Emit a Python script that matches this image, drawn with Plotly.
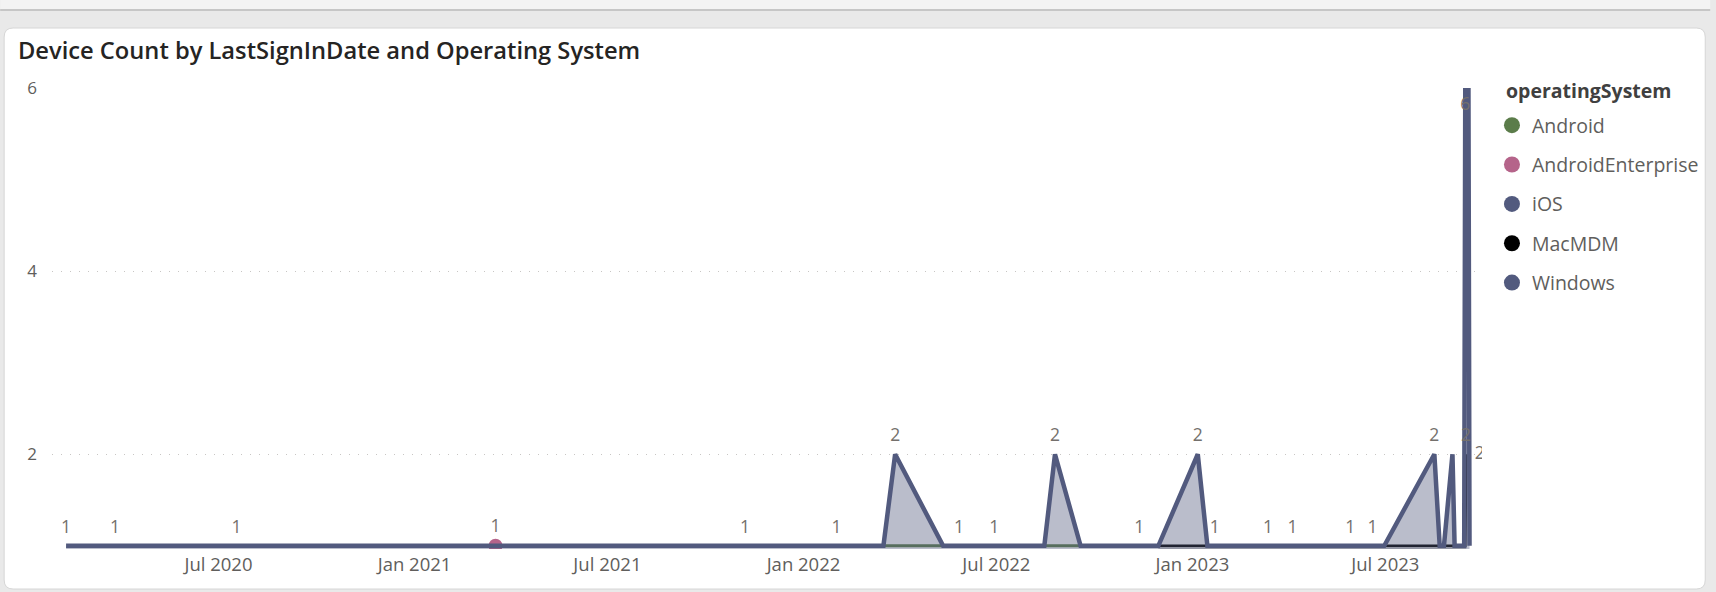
import plotly.graph_objects as go

# ------------------------------------------------------------------ data
windows_dates = [
    "2020-02-09", "2020-03-26", "2020-07-18", "2021-03-18", "2021-11-07",
    "2022-02-01", "2022-03-17", "2022-03-28", "2022-05-12", "2022-05-27",
    "2022-06-29", "2022-08-15", "2022-08-25", "2022-09-18", "2022-11-12",
    "2022-11-30", "2023-01-06", "2023-01-15", "2023-01-22", "2023-03-13",
    "2023-04-05", "2023-05-29", "2023-06-19", "2023-06-30", "2023-08-16",
    "2023-08-21", "2023-08-25", "2023-09-02", "2023-09-04", "2023-09-13",
    "2023-09-14", "2023-09-17", "2023-09-18",
]
windows_values = [
    1, 1, 1, 1, 1,
    1, 1, 2, 1, 1,
    1, 1, 2, 1, 1,
    1, 2, 1, 1, 1,
    1, 1, 1, 1, 2,
    1, 1, 2, 1, 1,
    6, 6, 1,
]
windows_labeled = [
    "2020-02-09", "2020-03-26", "2020-07-18", "2021-11-07", "2022-02-01",
    "2022-03-28", "2022-05-27", "2022-06-29", "2022-08-25", "2022-11-12",
    "2023-01-06", "2023-01-22", "2023-03-13", "2023-04-05", "2023-05-29",
    "2023-06-19", "2023-08-16", "2023-09-02", "2023-09-14",
]

ios_dates = ["2021-11-07", "2022-02-01", "2022-03-17"]
ios_values = [1, 1, 1]

android_dates = ["2022-03-17", "2022-05-12", "2022-08-15", "2022-09-18"]
android_values = [1, 1, 1, 1]

androident_dates = ["2021-03-18"]
androident_values = [1]

macmdm_dates = ["2022-11-30", "2023-01-15", "2023-07-01", "2023-08-15",
                "2023-08-24", "2023-09-02", "2023-09-14", "2023-09-15"]
macmdm_values = [1, 1, 1, 1, 1, 1, 1, 2]
macmdm_labeled = ["2023-09-15"]

legend_names = ["Android", "AndroidEnterprise", "iOS", "MacMDM", "Windows"]
y_ticks = [2, 4, 6]

title_text = "Device Count by LastSignInDate and Operating System"
legend_title = "operatingSystem"

# ------------------------------------------------------------------ style
COLORS = {
    "Android": "#5B7C4A",
    "AndroidEnterprise": "#B5648A",
    "iOS": "#525A7E",
    "MacMDM": "#000000",
    "Windows": "#525A7E",
}
FILL = "rgba(82,90,126,0.40)"
LABEL_COLOR = "#74706C"
AXIS_COLOR = "#605E5C"
FONT = "Segoe UI, Open Sans, sans-serif"

W, H = 1716, 592
ML, MR, MT, MB = 52, 229, 88, 43
PW, PH = W - ML - MR, H - MT - MB


def px(x):
    return (x - ML) / PW


def py(y):
    return 1 - (y - MT) / PH


special_pos = {"2023-09-02": "top right", "2023-09-14": "bottom center",
               "2023-09-15": "middle right"}


def texts(dates, values, labeled):
    return [str(v) if d in labeled else "" for d, v in zip(dates, values)]


def positions(dates):
    return [special_pos.get(d, "top center") for d in dates]


label_font = dict(family=FONT, size=17.5, color=LABEL_COLOR)
fig = go.Figure()


def add_series(name, dates, values, labeled, width, fill=None):
    fig.add_trace(go.Scatter(
        x=dates, y=values, name=name, showlegend=False,
        mode="lines+markers+text",
        line=dict(color=COLORS[name], width=width),
        marker=dict(size=12, color="rgba(0,0,0,0)"),
        fill="tozeroy" if fill else None, fillcolor=fill,
        text=texts(dates, values, labeled), textposition=positions(dates),
        textfont=label_font, hoverinfo="x+y+name",
    ))


add_series("iOS", ios_dates, ios_values, [], 3)
add_series("Android", android_dates, android_values, [], 3)
add_series("MacMDM", macmdm_dates, macmdm_values, macmdm_labeled, 2.5,
           "rgba(0,0,0,0.25)")

fig.add_trace(go.Scatter(
    x=androident_dates, y=androident_values, name="AndroidEnterprise",
    showlegend=False, mode="markers+text",
    marker=dict(size=14, color=COLORS["AndroidEnterprise"]),
    text=[str(v) for v in androident_values], textposition="top center",
    textfont=label_font,
))

add_series("Windows", windows_dates, windows_values, windows_labeled, 4.5, FILL)

# legend-only entries (circle symbols like the original)
for name in legend_names:
    fig.add_trace(go.Scatter(
        x=[None], y=[None], mode="markers", name=name, legendgroup=name,
        marker=dict(size=16, color=COLORS[name]), showlegend=True,
    ))

# card background decoration
r = 9
L, R, T, B = 4, 1711, 28, 589
card = (f"M {px(L + r)},{py(T)} L {px(R - r)},{py(T)} "
        f"Q {px(R)},{py(T)} {px(R)},{py(T + r)} L {px(R)},{py(B - r)} "
        f"Q {px(R)},{py(B)} {px(R - r)},{py(B)} L {px(L + r)},{py(B)} "
        f"Q {px(L)},{py(B)} {px(L)},{py(B - r)} L {px(L)},{py(T + r)} "
        f"Q {px(L)},{py(T)} {px(L + r)},{py(T)} Z")
shapes = [
    dict(type="rect", xref="paper", yref="paper", x0=px(0), x1=px(W),
         y0=py(0), y1=py(9), fillcolor="#F3F3F3", line=dict(width=0),
         layer="below"),
    dict(type="line", xref="paper", yref="paper", x0=px(0), x1=px(W),
         y0=py(10), y1=py(10), line=dict(color="#C6C6C6", width=2),
         layer="below"),
    dict(type="path", xref="paper", yref="paper", path=card,
         fillcolor="#FFFFFF", line=dict(color="#D6D6D6", width=1),
         layer="below"),
]

annotations = [
    dict(text=legend_title, xref="paper", yref="paper", x=px(1509),
         y=py(90), xanchor="left", yanchor="middle", showarrow=False,
         font=dict(family=FONT, size=19.5, color="#404040", weight="bold")),
]

fig.update_layout(
    width=W, height=H,
    margin=dict(l=ML, r=MR, t=MT, b=MB, pad=0),
    paper_bgcolor="#E9E9E9", plot_bgcolor="rgba(0,0,0,0)",
    shapes=shapes, annotations=annotations,
    font=dict(family=FONT, color=AXIS_COLOR),
    title=dict(text=title_text, xref="container", yref="container",
               x=18 / W, xanchor="left", y=1 - 51 / H, yanchor="middle",
               font=dict(family=FONT, size=23.7, color="#252423", weight=600)),
    showlegend=True,
    legend=dict(
        x=px(1497), y=py(106), xanchor="left", yanchor="top",
        bgcolor="rgba(0,0,0,0)", traceorder="grouped", tracegroupgap=11,
        itemwidth=30,
        font=dict(family=FONT, size=19.5, color=AXIS_COLOR),
    ),
    xaxis=dict(
        type="date", range=["2020-01-26 19:00", "2023-09-29 17:00"],
        tick0="2020-01-01", dtick="M6", tickformat="%b %Y",
        showgrid=False, zeroline=False, showline=False, ticks="",
        tickfont=dict(family=FONT, size=18.5, color=AXIS_COLOR),
        ticklabelstandoff=2,
    ),
    yaxis=dict(
        range=[0.965, 6.0], tickvals=y_ticks, showgrid=True,
        gridcolor="#C8C6C4", gridwidth=1, griddash="1px,8px",
        zeroline=False, showline=False, ticks="",
        tickfont=dict(family=FONT, size=17, color=AXIS_COLOR),
        ticklabelstandoff=14,
    ),
)

fig.write_html(
    "out.html",
    config={"displayModeBar": False},
    post_script="document.body.style.margin='0';"
                "document.body.style.overflow='hidden';",
)
